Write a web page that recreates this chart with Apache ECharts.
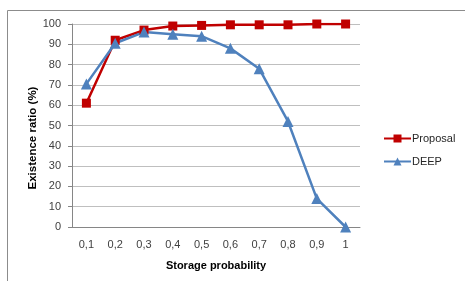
<!DOCTYPE html>
<html><head><meta charset="utf-8">
<script src="https://cdn.jsdelivr.net/npm/echarts@6/dist/echarts.min.js"></script>
<style>html,body{margin:0;padding:0;background:#fff}#c{width:465px;height:281px}</style>
</head><body><div id="c"></div>
<script>
const categories = ['0,1','0,2','0,3','0,4','0,5','0,6','0,7','0,8','0,9','1'];
const proposal = [61, 92, 97, 99, 99.3, 99.6, 99.6, 99.6, 100, 100];
const deep = [70.5, 90.5, 96, 95, 94, 88, 78, 52, 14, 0];
const yTicks = [0,10,20,30,40,50,60,70,80,90,100];
const xTitle = 'Storage probability';
const yTitle = 'Existence ratio (%)';

const font = 'Liberation Sans';
const chart = echarts.init(document.getElementById('c'), null, {renderer:'canvas'});
chart.setOption({
  animation:false,
  textStyle:{fontFamily:font},
  graphic:[
    {type:'rect',shape:{x:7.5,y:10.5,width:470,height:300},style:{fill:'none',stroke:'#8c8c8c',lineWidth:1},silent:true},
    {type:'text',x:33,y:138,rotation:Math.PI/2,silent:true,
      style:{text:yTitle,x:0,y:0,align:'center',verticalAlign:'middle',
        font:'bold 11.5px "Liberation Sans"',fill:'#000'}}
  ],
  grid:{left:72,right:105,top:24,bottom:54},
  legend:{orient:'vertical',left:378,top:128,itemWidth:27,itemHeight:10,itemGap:12,
    textStyle:{fontFamily:font,fontSize:11,color:'#262626',padding:[0,0,0,-4]},
    data:['Proposal','DEEP']},
  xAxis:{type:'category',data:categories,boundaryGap:true,
    name:xTitle,nameLocation:'middle',nameGap:33,
    nameTextStyle:{fontFamily:font,fontSize:11,fontWeight:'bold',color:'#000'},
    axisLine:{lineStyle:{color:'#868686'}},axisTick:{show:false},
    axisLabel:{fontFamily:font,fontSize:11,color:'#404040',margin:12}},
  yAxis:{type:'value',min:0,max:100,interval:10,
    axisLine:{show:true,lineStyle:{color:'#868686'}},
    axisTick:{show:true,length:4,lineStyle:{color:'#868686'}},
    axisLabel:{fontFamily:font,fontSize:11,color:'#404040',margin:11,
      formatter:v=>yTicks.includes(v)?String(v):''},
    splitLine:{lineStyle:{color:'#bfbfbf',width:1}}},
  series:[
    {name:'Proposal',type:'line',data:proposal,symbol:'rect',symbolSize:9,
      lineStyle:{color:'#c00000',width:2.5},itemStyle:{color:'#c00000'}},
    {name:'DEEP',type:'line',data:deep,symbol:'triangle',symbolSize:11,
      lineStyle:{color:'#4f81bd',width:2.5},itemStyle:{color:'#4f81bd'}}
  ]
});
</script></body></html>
